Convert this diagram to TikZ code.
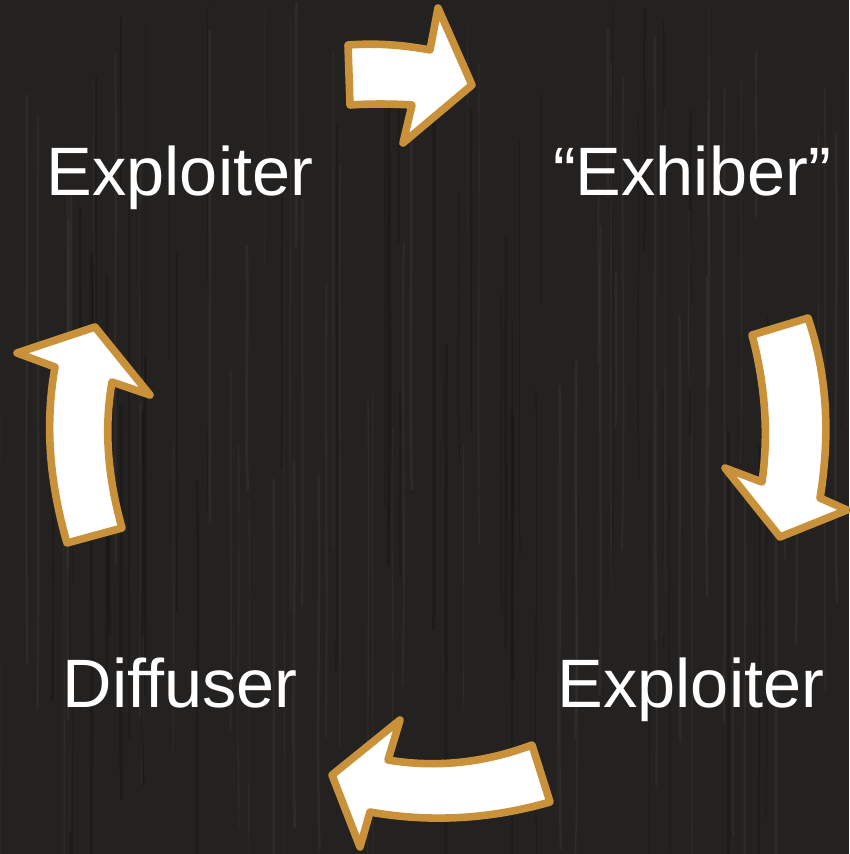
\documentclass[tikz,border=0pt]{standalone}
\usepackage{fontspec}
\setmainfont{Liberation Sans}
\definecolor{bg}{RGB}{36,34,32}
\definecolor{grainlight}{RGB}{62,58,54}
\definecolor{graindark}{RGB}{20,19,18}
\definecolor{gold}{RGB}{200,145,58}
\tikzset{
  blockarrow/.style={fill=white, draw=gold, line width=7.6pt, line join=round},
  label/.style={text=white, anchor=base, inner sep=0pt, font=\fontsize{68.5}{68.5}\selectfont},
  grain/.style={line width=#1, opacity=0.35}
}
\begin{document}
\begin{tikzpicture}[x=1pt,y=-1pt]
\fill[bg] (0,0) rectangle (849,854);
\useasboundingbox (0,0) rectangle (849,854);
% wood grain
\pgfmathsetseed{7}
\foreach \i in {1,...,70}{
  \pgfmathsetmacro{\gx}{rnd*849}
  \pgfmathsetmacro{\gw}{0.6+rnd*2.5}
  \pgfmathsetmacro{\gy}{rnd*500}
  \pgfmathsetmacro{\gl}{150+rnd*500}
  \pgfmathsetmacro{\gd}{rnd*6-3}
  \draw[grain=\gw pt, draw=grainlight] (\gx,\gy) .. controls (\gx+\gd,\gy+\gl/3) and (\gx-\gd,\gy+2*\gl/3) .. (\gx+\gd/2,\gy+\gl);
}
\foreach \i in {1,...,50}{
  \pgfmathsetmacro{\gx}{rnd*849}
  \pgfmathsetmacro{\gw}{0.8+rnd*3}
  \pgfmathsetmacro{\gy}{rnd*500}
  \pgfmathsetmacro{\gl}{150+rnd*500}
  \pgfmathsetmacro{\gd}{rnd*6-3}
  \draw[grain=\gw pt, draw=graindark] (\gx,\gy) .. controls (\gx+\gd,\gy+\gl/3) and (\gx-\gd,\gy+2*\gl/3) .. (\gx+\gd/2,\gy+\gl);
}
% labels
\node[label] (tl) at (180,195) {Exploiter};
\node[label] (tr) at (692,195) {“Exhiber”};
\node[label] (bl) at (180,707) {Diffuser};
\node[label] (br) at (691,707) {Exploiter};
% top arrow (right)
\draw[blockarrow] (348,45) .. controls (376,43) and (402,44.7) .. (430,50) -- (438,8) -- (472,85) -- (403,143) -- (412,105) .. controls (390.7,103.7) and (370,103.7) .. (350,105) -- cycle;
% right arrow (down)
\draw[blockarrow] (752,335) -- (808,318) .. controls (826.7,372.7) and (830.7,432.7) .. (820,498) -- (847,510) -- (780,537) -- (725,468) -- (762,482) .. controls (768.7,434) and (765.3,385) .. (752,335) -- cycle;
% bottom arrow (left)
\draw[blockarrow] (532,745) -- (550,802) .. controls (490,819.3) and (430,822.7) .. (370,812) -- (360,847) -- (332,775) -- (400,720) -- (388,760) .. controls (436,768) and (484,763) .. (532,745) -- cycle;
% left arrow (up)
\draw[blockarrow] (17,353) -- (95,327) -- (150,395) -- (112,382) .. controls (104,427.3) and (107.3,476) .. (122,528) -- (67,543) .. controls (49,481) and (45,422.3) .. (55,367) -- cycle;
\end{tikzpicture}
\end{document}
